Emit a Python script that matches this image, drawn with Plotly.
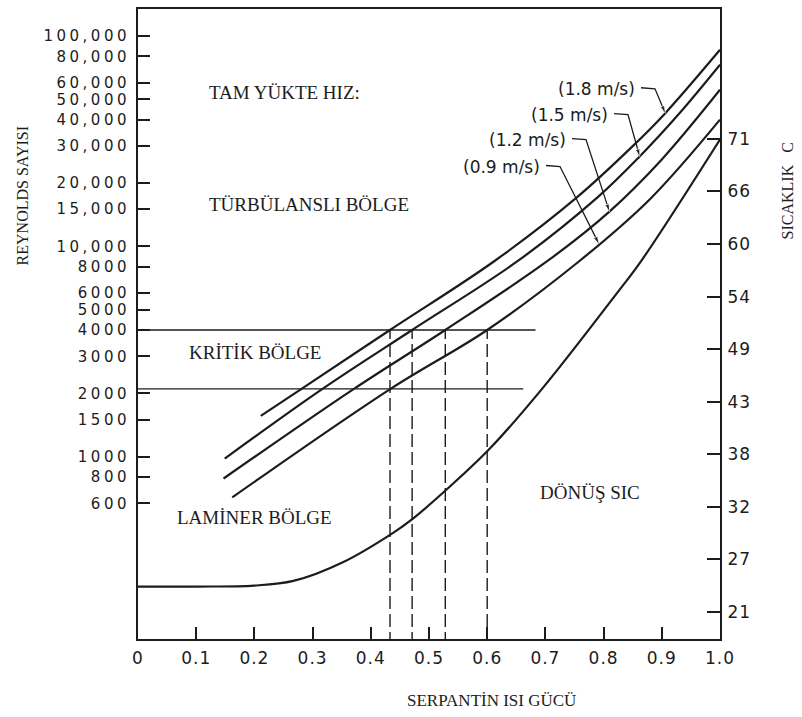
import numpy as np
import plotly.graph_objects as go

# ---------------- data ----------------
x_tickvals = [0.0, 0.1, 0.2, 0.3, 0.4, 0.5, 0.6, 0.7, 0.8, 0.9, 1.0]
x_ticktext = ["0", "0.1", "0.2", "0.3", "0.4", "0.5", "0.6", "0.7", "0.8", "0.9", "1.0"]

re_tickvals = [600, 800, 1000, 1500, 2000, 3000, 4000, 5000, 6000, 8000,
               10000, 15000, 20000, 30000, 40000, 50000, 60000, 80000, 100000]
re_ticktext = ["600", "800", "1000", "1500", "2000", "3000", "4000", "5000", "6000", "8000",
               "10,000", "15,000", "20,000", "30,000", "40,000", "50,000", "60,000",
               "80,000", "100,000"]

temp_tickvals = [21.1, 26.7, 32.2, 37.8, 43.3, 48.9, 54.4, 60.0, 65.6, 71.1]
temp_ticktext = ["21", "27", "32", "38", "43", "49", "54", "60", "66", "71"]

# Reynolds number curves for full-load velocity
v18_x = [0.211, 0.281, 0.433, 0.612, 0.753, 0.850, 0.906, 1.0]
v18_re = [1563, 2100, 4000, 8490, 16980, 29920, 42950, 85900]
v15_x = [0.149, 0.317, 0.471, 0.652, 0.791, 0.862, 0.930, 1.0]
v15_re = [979, 2100, 4000, 8490, 17220, 26730, 42760, 72950]
v12_x = [0.147, 0.371, 0.528, 0.703, 0.810, 0.900, 1.0]
v12_re = [787, 2100, 4000, 8490, 14620, 25880, 55460]
v09_x = [0.162, 0.434, 0.600, 0.758, 0.880, 1.0]
v09_re = [640, 2100, 4000, 8490, 16790, 40000]

# return temperature curve (right axis, deg C)
temp_x = [0.0, 0.1, 0.2, 0.267, 0.353, 0.439, 0.473, 0.533, 0.605, 0.696, 0.822, 0.866, 1.0]
temp_c = [23.8, 23.8, 23.9, 24.4, 26.4, 29.5, 31.0, 34.2, 38.4, 44.8, 54.7, 58.3, 71.0]

critical_re = [2100, 4000]
critical_line_end_x = [0.662, 0.683]

speed_labels = ["(1.8 m/s)", "(1.5 m/s)", "(1.2 m/s)", "(0.9 m/s)"]
speed_curves = [(v18_x, v18_re), (v15_x, v15_re), (v12_x, v12_re), (v09_x, v09_re)]

# ---------------- layout geometry ----------------
W, H = 802, 717
L, R, T, B = 138, 720, 7, 639
PW, PH = R - L, B - T
YMIN, YMAX = 2.133, 5.128
TMIN, TMAX = 18.26, 84.78


def px_x(px):
    return (px - L) / PW


def py_re(py):
    return 10 ** (YMAX - (py - T) / PH * (YMAX - YMIN))


def ppx(px):
    return (px - L) / PW


def ppy(py):
    return (B - py) / PH


INK = "#1c1c1c"
SERIF = "Liberation Serif"
SANS = "DejaVu Sans"

fig = go.Figure()

# horizontal critical lines
for re_val, xe in zip(critical_re, critical_line_end_x):
    fig.add_trace(go.Scatter(x=[0, xe], y=[re_val, re_val], mode="lines",
                             line=dict(color=INK, width=1.3), hoverinfo="skip",
                             showlegend=False))

# velocity curves
for cx, cy in speed_curves:
    fig.add_trace(go.Scatter(x=cx, y=cy, mode="lines",
                             line=dict(color=INK, width=2.2, shape="spline", smoothing=1.0),
                             hoverinfo="skip", showlegend=False))

# dashed verticals where each curve reaches Re = 4000
for cx, cy in speed_curves:
    xc = float(np.interp(np.log10(critical_re[1]), np.log10(cy), cx))
    fig.add_trace(go.Scatter(x=[xc, xc], y=[10 ** (YMIN - 0.2), critical_re[1]], mode="lines",
                             line=dict(color=INK, width=1.4, dash="13px,5px"),
                             hoverinfo="skip", showlegend=False))

# temperature curve on right axis
fig.add_trace(go.Scatter(x=temp_x, y=temp_c, yaxis="y2", mode="lines",
                         line=dict(color=INK, width=2.2, shape="spline", smoothing=1.0),
                         hoverinfo="skip", showlegend=False))

# speed labels with leader lines
label_pos = [(637, 87, 0.906), (610, 113, 0.862), (568, 138, 0.810), (542, 165, 0.792)]
annotations = []
for (txt, (cx, cy), (ex, ey, tipx)) in zip(speed_labels, speed_curves, label_pos):
    annotations.append(dict(x=ppx(ex), y=ppy(ey), xref="paper", yref="paper",
                            text=txt, showarrow=False, xanchor="right", yanchor="middle",
                            font=dict(family=SANS, size=17, color=INK)))
    tip_re = 10 ** float(np.interp(tipx, cx, np.log10(cy)))
    lx = [px_x(ex + 4), px_x(ex + 18), tipx]
    ly = [py_re(ey - 1), py_re(ey), tip_re]
    fig.add_trace(go.Scatter(x=lx, y=ly, mode="lines+markers",
                             line=dict(color=INK, width=1.3),
                             marker=dict(symbol="arrow", size=[0, 0, 8], angleref="previous",
                                         color=INK),
                             hoverinfo="skip", showlegend=False))

serif_labels = [
    ("TAM YÜKTE HIZ:", 207, 91),
    ("TÜRBÜLANSLI BÖLGE", 207, 203),
    ("KRİTİK BÖLGE", 187, 352),
    ("LAMİNER BÖLGE", 175, 517),
    ("DÖNÜŞ SIC", 538, 492),
]
for txt, x0, y0 in serif_labels:
    annotations.append(dict(x=ppx(x0), y=ppy(y0), xref="paper", yref="paper", text=txt,
                            showarrow=False, xanchor="left", yanchor="middle",
                            font=dict(family=SERIF, size=19, color=INK)))

annotations.append(dict(x=ppx(22), y=ppy(194), xref="paper", yref="paper",
                        text="REYNOLDS SAYISI", textangle=-90, showarrow=False,
                        xanchor="center", yanchor="middle",
                        font=dict(family=SERIF, size=16, color=INK)))
annotations.append(dict(x=ppx(787), y=ppy(190), xref="paper", yref="paper",
                        text="SICAKLIK   C", textangle=-90, showarrow=False,
                        xanchor="center", yanchor="middle",
                        font=dict(family=SERIF, size=16, color=INK)))
annotations.append(dict(x=ppx(492), y=ppy(701), xref="paper", yref="paper",
                        text="SERPANTİN ISI GÜCÜ", showarrow=False,
                        xanchor="center", yanchor="middle",
                        font=dict(family=SERIF, size=17, color=INK)))

axis_common = dict(showgrid=False, zeroline=False, showline=True, linecolor=INK,
                   linewidth=2, ticks="inside", tickcolor=INK, tickwidth=1.5)

fig.update_layout(
    width=W, height=H,
    margin=dict(l=L, r=W - R, t=T, b=H - B, pad=0),
    paper_bgcolor="white", plot_bgcolor="white",
    showlegend=False,
    xaxis=dict(range=[0, 1], tickmode="array", tickvals=x_tickvals, ticktext=x_ticktext,
               ticklen=12, mirror=True, ticklabelstandoff=3,
               tickfont=dict(family=SANS, size=17, color=INK), **axis_common),
    yaxis=dict(type="log", range=[YMIN, YMAX], tickmode="array", tickvals=re_tickvals,
               ticktext=re_ticktext, ticklen=12, ticklabelstandoff=3,
               tickfont=dict(family=SANS, size=15, color=INK), **axis_common),
    yaxis2=dict(range=[TMIN, TMAX], overlaying="y", side="right", anchor="x",
                tickmode="array", tickvals=temp_tickvals, ticktext=temp_ticktext,
                ticklen=13, ticklabelstandoff=2,
                tickfont=dict(family=SANS, size=17, color=INK), **axis_common),
    annotations=annotations,
)

post = ("document.body.style.margin='0';"
        "var s=document.createElement('style');"
        "s.textContent='body{margin:0}.ytick text{letter-spacing:3.5px}"
        ".xtick text{letter-spacing:1px}.y2tick text{letter-spacing:1px}';"
        "document.head.appendChild(s);")
fig.write_html("out.html", post_script=post, config={"displayModeBar": False})
